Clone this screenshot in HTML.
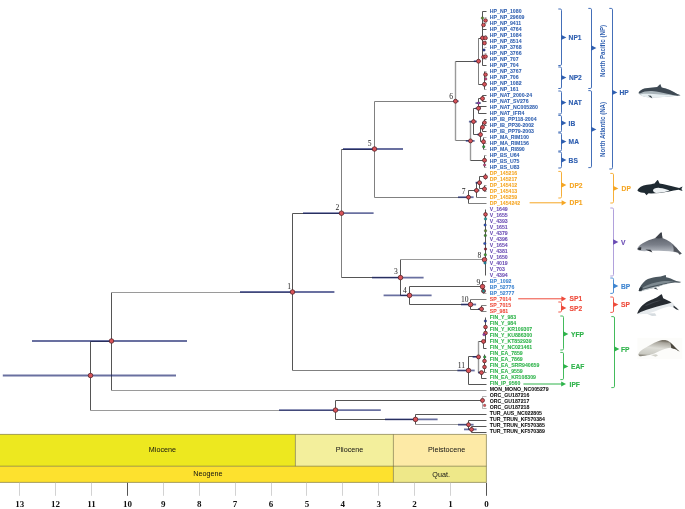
<!DOCTYPE html>
<html><head><meta charset="utf-8"><style>
html,body{margin:0;padding:0;background:#fff;}
svg{display:block;will-change:transform;}
text{font-family:"Liberation Sans",sans-serif;}
.lf{font-size:5.2px;font-weight:bold;stroke:currentColor;stroke-width:0.06px;}
.nl{font-family:"Liberation Serif",serif;font-size:7.6px;fill:#222;}
.ax{font-family:"Liberation Serif",serif;font-size:9px;font-weight:bold;fill:#111;}
.ep{font-size:7.2px;fill:#111;}
.bl{font-size:7.4px;font-weight:bold;stroke-width:0.15px;}
.rl{font-size:7.2px;font-weight:bold;}
</style></head><body>
<svg width="685" height="509" viewBox="0 0 685 509">
<rect width="685" height="509" fill="#fff"/>
<rect x="-5" y="434.4" width="300.4" height="31.8" fill="#ede81f"/>
<rect x="295.4" y="434.4" width="98" height="31.8" fill="#f3ef9c"/>
<rect x="393.4" y="434.4" width="93" height="31.8" fill="#fdeaa6"/>
<rect x="-5" y="466.2" width="398.4" height="16.2" fill="#fde12e"/>
<rect x="393.4" y="466.2" width="93" height="16.2" fill="#eee889"/>
<path d="M-5 434.4 H486.4 V482.4 H-5 M-5 466.2 H486.4 M295.4 434.4 V466.2 M393.4 434.4 V482.4" fill="none" stroke="#6a6530" stroke-width="0.6"/>
<line x1="486.50" y1="482.8" x2="486.50" y2="495.8" stroke="#555" stroke-width="1"/>
<text x="486.40" y="507.0" class="ax" text-anchor="middle">0</text>
<line x1="450.50" y1="482.8" x2="450.50" y2="495.8" stroke="#d2d2d2" stroke-width="1"/>
<text x="450.50" y="507.0" class="ax" text-anchor="middle">1</text>
<line x1="414.50" y1="482.8" x2="414.50" y2="495.8" stroke="#d2d2d2" stroke-width="1"/>
<text x="414.60" y="507.0" class="ax" text-anchor="middle">2</text>
<line x1="378.50" y1="482.8" x2="378.50" y2="495.8" stroke="#d2d2d2" stroke-width="1"/>
<text x="378.70" y="507.0" class="ax" text-anchor="middle">3</text>
<line x1="342.50" y1="482.8" x2="342.50" y2="495.8" stroke="#d2d2d2" stroke-width="1"/>
<text x="342.80" y="507.0" class="ax" text-anchor="middle">4</text>
<line x1="306.50" y1="482.8" x2="306.50" y2="495.8" stroke="#d2d2d2" stroke-width="1"/>
<text x="306.90" y="507.0" class="ax" text-anchor="middle">5</text>
<line x1="271.50" y1="482.8" x2="271.50" y2="495.8" stroke="#d2d2d2" stroke-width="1"/>
<text x="271.00" y="507.0" class="ax" text-anchor="middle">6</text>
<line x1="235.50" y1="482.8" x2="235.50" y2="495.8" stroke="#d2d2d2" stroke-width="1"/>
<text x="235.10" y="507.0" class="ax" text-anchor="middle">7</text>
<line x1="199.50" y1="482.8" x2="199.50" y2="495.8" stroke="#d2d2d2" stroke-width="1"/>
<text x="199.20" y="507.0" class="ax" text-anchor="middle">8</text>
<line x1="163.50" y1="482.8" x2="163.50" y2="495.8" stroke="#d2d2d2" stroke-width="1"/>
<text x="163.30" y="507.0" class="ax" text-anchor="middle">9</text>
<line x1="127.50" y1="482.8" x2="127.50" y2="495.8" stroke="#555" stroke-width="1"/>
<text x="127.40" y="507.0" class="ax" text-anchor="middle">10</text>
<line x1="91.50" y1="482.8" x2="91.50" y2="495.8" stroke="#d2d2d2" stroke-width="1"/>
<text x="91.50" y="507.0" class="ax" text-anchor="middle">11</text>
<line x1="55.50" y1="482.8" x2="55.50" y2="495.8" stroke="#d2d2d2" stroke-width="1"/>
<text x="55.60" y="507.0" class="ax" text-anchor="middle">12</text>
<line x1="19.50" y1="482.8" x2="19.50" y2="495.8" stroke="#d2d2d2" stroke-width="1"/>
<text x="19.70" y="507.0" class="ax" text-anchor="middle">13</text>
<text x="162.4" y="451.6" class="ep" text-anchor="middle">Miocene</text>
<text x="349.5" y="451.6" class="ep" text-anchor="middle">Pliocene</text>
<text x="446.6" y="451.6" class="ep" text-anchor="middle">Pleistocene</text>
<text x="207.9" y="476.3" class="ep" text-anchor="middle">Neogene</text>
<text x="441.1" y="476.9" class="ep" text-anchor="middle">Quat.</text>
<line x1="90.50" y1="341.50" x2="90.50" y2="410.50" stroke="#555555" stroke-width="1.0"/>
<line x1="90.50" y1="341.50" x2="111.50" y2="341.50" stroke="#555555" stroke-width="1.0"/>
<line x1="90.50" y1="410.50" x2="335.50" y2="410.50" stroke="#9a9a9a" stroke-width="1.0"/>
<line x1="111.50" y1="292.50" x2="111.50" y2="390.50" stroke="#555555" stroke-width="1.0"/>
<line x1="111.50" y1="292.50" x2="292.50" y2="292.50" stroke="#9a9a9a" stroke-width="1.0"/>
<line x1="111.50" y1="390.50" x2="486.50" y2="390.50" stroke="#9a9a9a" stroke-width="1.0"/>
<line x1="292.50" y1="213.50" x2="292.50" y2="370.50" stroke="#555555" stroke-width="1.0"/>
<line x1="292.50" y1="213.50" x2="341.50" y2="213.50" stroke="#555555" stroke-width="1.0"/>
<line x1="292.50" y1="370.50" x2="468.50" y2="370.50" stroke="#808080" stroke-width="1.0"/>
<line x1="341.50" y1="149.50" x2="341.50" y2="277.50" stroke="#808080" stroke-width="1.0"/>
<line x1="341.50" y1="149.50" x2="374.50" y2="149.50" stroke="#555555" stroke-width="1.0"/>
<line x1="341.50" y1="277.50" x2="400.50" y2="277.50" stroke="#555555" stroke-width="1.0"/>
<line x1="374.50" y1="101.50" x2="374.50" y2="197.50" stroke="#808080" stroke-width="1.0"/>
<line x1="374.50" y1="101.50" x2="455.50" y2="101.50" stroke="#808080" stroke-width="1.0"/>
<line x1="374.50" y1="197.50" x2="468.50" y2="197.50" stroke="#808080" stroke-width="1.0"/>
<line x1="455.50" y1="61.50" x2="455.50" y2="140.50" stroke="#9a9a9a" stroke-width="1.4"/>
<line x1="455.50" y1="61.50" x2="478.50" y2="61.50" stroke="#555555" stroke-width="1.0"/>
<line x1="455.50" y1="140.50" x2="470.50" y2="140.50" stroke="#808080" stroke-width="1.0"/>
<line x1="478.50" y1="38.50" x2="478.50" y2="84.50" stroke="#808080" stroke-width="1.0"/>
<line x1="478.50" y1="38.50" x2="482.50" y2="38.50" stroke="#555555" stroke-width="1.0"/>
<line x1="478.50" y1="84.50" x2="484.50" y2="84.50" stroke="#555555" stroke-width="1.0"/>
<line x1="482.50" y1="11.50" x2="482.50" y2="65.50" stroke="#555555" stroke-width="1.0"/>
<line x1="482.50" y1="11.50" x2="486.50" y2="11.50" stroke="#555555" stroke-width="1.0"/>
<line x1="482.50" y1="29.50" x2="486.50" y2="29.50" stroke="#555555" stroke-width="1.0"/>
<line x1="482.50" y1="65.50" x2="486.50" y2="65.50" stroke="#555555" stroke-width="1.0"/>
<line x1="484.50" y1="17.50" x2="486.50" y2="17.50" stroke="#808080" stroke-width="0.6"/>
<line x1="484.50" y1="23.50" x2="486.50" y2="23.50" stroke="#808080" stroke-width="0.6"/>
<line x1="484.50" y1="35.50" x2="486.50" y2="35.50" stroke="#808080" stroke-width="0.6"/>
<line x1="484.50" y1="41.50" x2="486.50" y2="41.50" stroke="#808080" stroke-width="0.6"/>
<line x1="484.50" y1="47.50" x2="486.50" y2="47.50" stroke="#808080" stroke-width="0.6"/>
<line x1="484.50" y1="53.50" x2="486.50" y2="53.50" stroke="#808080" stroke-width="0.6"/>
<line x1="484.50" y1="59.50" x2="486.50" y2="59.50" stroke="#808080" stroke-width="0.6"/>
<line x1="484.50" y1="71.50" x2="484.50" y2="89.50" stroke="#555555" stroke-width="1.0"/>
<line x1="484.50" y1="89.50" x2="486.50" y2="89.50" stroke="#808080" stroke-width="0.6"/>
<line x1="484.50" y1="71.50" x2="486.50" y2="71.50" stroke="#808080" stroke-width="0.6"/>
<line x1="484.50" y1="77.50" x2="486.50" y2="77.50" stroke="#808080" stroke-width="0.6"/>
<line x1="484.50" y1="83.50" x2="486.50" y2="83.50" stroke="#808080" stroke-width="0.6"/>
<line x1="470.50" y1="121.50" x2="470.50" y2="160.50" stroke="#9a9a9a" stroke-width="1.4"/>
<line x1="470.50" y1="121.50" x2="473.50" y2="121.50" stroke="#555555" stroke-width="1.0"/>
<line x1="470.50" y1="160.50" x2="484.50" y2="160.50" stroke="#555555" stroke-width="1.0"/>
<line x1="473.50" y1="108.50" x2="473.50" y2="134.50" stroke="#555555" stroke-width="1.0"/>
<line x1="473.50" y1="108.50" x2="478.50" y2="108.50" stroke="#555555" stroke-width="1.0"/>
<line x1="473.50" y1="134.50" x2="480.50" y2="134.50" stroke="#555555" stroke-width="1.0"/>
<line x1="478.50" y1="98.50" x2="478.50" y2="113.50" stroke="#555555" stroke-width="1.0"/>
<line x1="478.50" y1="106.50" x2="486.50" y2="106.50" stroke="#555555" stroke-width="1.0"/>
<line x1="478.50" y1="113.50" x2="486.50" y2="113.50" stroke="#555555" stroke-width="1.0"/>
<line x1="482.50" y1="95.50" x2="482.50" y2="101.50" stroke="#555555" stroke-width="1.0"/>
<line x1="482.50" y1="95.50" x2="486.50" y2="95.50" stroke="#555555" stroke-width="1.0"/>
<line x1="482.50" y1="101.50" x2="486.50" y2="101.50" stroke="#555555" stroke-width="1.0"/>
<line x1="478.50" y1="98.50" x2="482.50" y2="98.50" stroke="#555555" stroke-width="1.0"/>
<line x1="480.50" y1="127.50" x2="480.50" y2="141.50" stroke="#555555" stroke-width="1.0"/>
<line x1="480.50" y1="127.50" x2="482.50" y2="127.50" stroke="#555555" stroke-width="1.0"/>
<line x1="480.50" y1="141.50" x2="483.50" y2="141.50" stroke="#555555" stroke-width="1.0"/>
<line x1="482.50" y1="122.50" x2="482.50" y2="131.50" stroke="#555555" stroke-width="1.0"/>
<line x1="482.50" y1="131.50" x2="486.50" y2="131.50" stroke="#555555" stroke-width="1.0"/>
<line x1="484.50" y1="119.50" x2="484.50" y2="125.50" stroke="#555555" stroke-width="1.0"/>
<line x1="484.50" y1="119.50" x2="486.50" y2="119.50" stroke="#555555" stroke-width="1.0"/>
<line x1="484.50" y1="125.50" x2="486.50" y2="125.50" stroke="#555555" stroke-width="1.0"/>
<line x1="482.50" y1="122.50" x2="484.50" y2="122.50" stroke="#555555" stroke-width="1.0"/>
<line x1="483.50" y1="137.50" x2="483.50" y2="149.50" stroke="#555555" stroke-width="1.0"/>
<line x1="483.50" y1="137.50" x2="486.50" y2="137.50" stroke="#808080" stroke-width="0.6"/>
<line x1="483.50" y1="143.50" x2="486.50" y2="143.50" stroke="#808080" stroke-width="0.6"/>
<line x1="483.50" y1="149.50" x2="486.50" y2="149.50" stroke="#808080" stroke-width="0.6"/>
<line x1="484.50" y1="155.50" x2="484.50" y2="167.50" stroke="#555555" stroke-width="1.0"/>
<line x1="484.50" y1="155.50" x2="486.50" y2="155.50" stroke="#808080" stroke-width="0.6"/>
<line x1="484.50" y1="161.50" x2="486.50" y2="161.50" stroke="#808080" stroke-width="0.6"/>
<line x1="484.50" y1="167.50" x2="486.50" y2="167.50" stroke="#808080" stroke-width="0.6"/>
<line x1="468.50" y1="190.50" x2="468.50" y2="203.50" stroke="#555555" stroke-width="1.0"/>
<line x1="468.50" y1="190.50" x2="476.50" y2="190.50" stroke="#555555" stroke-width="1.0"/>
<line x1="468.50" y1="203.50" x2="486.50" y2="203.50" stroke="#808080" stroke-width="1.0"/>
<line x1="476.50" y1="182.50" x2="476.50" y2="197.50" stroke="#555555" stroke-width="1.0"/>
<line x1="476.50" y1="182.50" x2="479.50" y2="182.50" stroke="#555555" stroke-width="1.0"/>
<line x1="476.50" y1="197.50" x2="486.50" y2="197.50" stroke="#808080" stroke-width="1.0"/>
<line x1="479.50" y1="176.50" x2="479.50" y2="188.50" stroke="#555555" stroke-width="1.0"/>
<line x1="479.50" y1="176.50" x2="485.50" y2="176.50" stroke="#555555" stroke-width="1.0"/>
<line x1="479.50" y1="188.50" x2="484.50" y2="188.50" stroke="#555555" stroke-width="1.0"/>
<line x1="485.50" y1="173.50" x2="485.50" y2="179.50" stroke="#555555" stroke-width="1.0"/>
<line x1="484.50" y1="185.50" x2="484.50" y2="191.50" stroke="#555555" stroke-width="1.0"/>
<line x1="484.50" y1="185.50" x2="486.50" y2="185.50" stroke="#555555" stroke-width="0.6"/>
<line x1="484.50" y1="191.50" x2="486.50" y2="191.50" stroke="#555555" stroke-width="0.6"/>
<line x1="400.50" y1="259.50" x2="400.50" y2="295.50" stroke="#555555" stroke-width="1.0"/>
<line x1="400.50" y1="259.50" x2="484.50" y2="259.50" stroke="#9a9a9a" stroke-width="1.0"/>
<line x1="400.50" y1="295.50" x2="409.50" y2="295.50" stroke="#555555" stroke-width="1.0"/>
<line x1="485.50" y1="209.50" x2="485.50" y2="275.50" stroke="#555555" stroke-width="1.0"/>
<line x1="409.50" y1="286.50" x2="409.50" y2="304.50" stroke="#555555" stroke-width="1.0"/>
<line x1="409.50" y1="286.50" x2="482.50" y2="286.50" stroke="#555555" stroke-width="1.0"/>
<line x1="409.50" y1="304.50" x2="470.50" y2="304.50" stroke="#555555" stroke-width="1.0"/>
<line x1="482.50" y1="281.50" x2="482.50" y2="291.50" stroke="#555555" stroke-width="1.0"/>
<line x1="482.50" y1="281.50" x2="486.50" y2="281.50" stroke="#808080" stroke-width="1.0"/>
<line x1="482.50" y1="291.50" x2="483.50" y2="291.50" stroke="#555555" stroke-width="1.0"/>
<line x1="483.50" y1="287.50" x2="483.50" y2="293.50" stroke="#555555" stroke-width="1.0"/>
<line x1="483.50" y1="293.50" x2="486.50" y2="293.50" stroke="#808080" stroke-width="0.6"/>
<line x1="470.50" y1="299.50" x2="470.50" y2="309.50" stroke="#555555" stroke-width="1.0"/>
<line x1="470.50" y1="299.50" x2="486.50" y2="299.50" stroke="#808080" stroke-width="1.0"/>
<line x1="470.50" y1="309.50" x2="481.50" y2="309.50" stroke="#555555" stroke-width="1.0"/>
<line x1="481.50" y1="305.50" x2="481.50" y2="311.50" stroke="#555555" stroke-width="1.0"/>
<line x1="481.50" y1="305.50" x2="486.50" y2="305.50" stroke="#808080" stroke-width="1.0"/>
<line x1="481.50" y1="311.50" x2="486.50" y2="311.50" stroke="#808080" stroke-width="1.0"/>
<line x1="468.50" y1="356.50" x2="468.50" y2="384.50" stroke="#555555" stroke-width="1.0"/>
<line x1="468.50" y1="356.50" x2="478.50" y2="356.50" stroke="#555555" stroke-width="1.0"/>
<line x1="468.50" y1="384.50" x2="486.50" y2="384.50" stroke="#555555" stroke-width="1.0"/>
<line x1="478.50" y1="341.50" x2="478.50" y2="372.50" stroke="#9a9a9a" stroke-width="1.4"/>
<line x1="478.50" y1="341.50" x2="483.50" y2="341.50" stroke="#555555" stroke-width="1.0"/>
<line x1="478.50" y1="372.50" x2="481.50" y2="372.50" stroke="#555555" stroke-width="1.0"/>
<line x1="483.50" y1="342.50" x2="483.50" y2="348.50" stroke="#555555" stroke-width="1.0"/>
<line x1="483.50" y1="348.50" x2="486.50" y2="348.50" stroke="#555555" stroke-width="1.0"/>
<line x1="485.50" y1="317.50" x2="485.50" y2="342.50" stroke="#555555" stroke-width="1.0"/>
<line x1="481.50" y1="372.50" x2="481.50" y2="378.50" stroke="#555555" stroke-width="1.0"/>
<line x1="481.50" y1="378.50" x2="486.50" y2="378.50" stroke="#555555" stroke-width="1.0"/>
<line x1="484.50" y1="354.50" x2="484.50" y2="372.50" stroke="#555555" stroke-width="1.0"/>
<line x1="481.50" y1="372.50" x2="486.50" y2="372.50" stroke="#808080" stroke-width="1.0"/>
<line x1="335.50" y1="400.50" x2="335.50" y2="419.50" stroke="#555555" stroke-width="1.0"/>
<line x1="335.50" y1="400.50" x2="482.50" y2="400.50" stroke="#555555" stroke-width="1.0"/>
<line x1="335.50" y1="419.50" x2="415.50" y2="419.50" stroke="#555555" stroke-width="1.0"/>
<line x1="482.50" y1="396.50" x2="482.50" y2="408.50" stroke="#808080" stroke-width="0.6"/>
<line x1="482.50" y1="396.50" x2="486.50" y2="396.50" stroke="#808080" stroke-width="0.6"/>
<line x1="482.50" y1="408.50" x2="486.50" y2="408.50" stroke="#808080" stroke-width="0.6"/>
<line x1="415.50" y1="414.50" x2="415.50" y2="424.50" stroke="#555555" stroke-width="1.0"/>
<line x1="415.50" y1="414.50" x2="486.50" y2="414.50" stroke="#555555" stroke-width="1.0"/>
<line x1="415.50" y1="424.50" x2="468.50" y2="424.50" stroke="#9a9a9a" stroke-width="1.0"/>
<line x1="468.50" y1="420.50" x2="468.50" y2="429.50" stroke="#555555" stroke-width="1.0"/>
<line x1="468.50" y1="420.50" x2="486.50" y2="420.50" stroke="#555555" stroke-width="1.0"/>
<line x1="468.50" y1="429.50" x2="471.50" y2="429.50" stroke="#555555" stroke-width="1.0"/>
<line x1="471.50" y1="426.50" x2="471.50" y2="432.50" stroke="#555555" stroke-width="1.0"/>
<line x1="471.50" y1="426.50" x2="486.50" y2="426.50" stroke="#555555" stroke-width="1.0"/>
<line x1="471.50" y1="432.50" x2="486.50" y2="432.50" stroke="#555555" stroke-width="1.0"/>
<line x1="2.80" y1="375.50" x2="176.00" y2="375.50" stroke="#0d1866" stroke-width="1.8" stroke-opacity="0.62"/>
<line x1="32.00" y1="341.00" x2="187.00" y2="341.00" stroke="#0d1866" stroke-width="1.8" stroke-opacity="0.62"/>
<line x1="240.00" y1="292.00" x2="334.40" y2="292.00" stroke="#0d1866" stroke-width="1.8" stroke-opacity="0.62"/>
<line x1="303.00" y1="213.20" x2="373.60" y2="213.20" stroke="#0d1866" stroke-width="1.8" stroke-opacity="0.62"/>
<line x1="343.00" y1="149.00" x2="403.00" y2="149.00" stroke="#0d1866" stroke-width="1.8" stroke-opacity="0.62"/>
<line x1="372.00" y1="277.60" x2="423.60" y2="277.60" stroke="#0d1866" stroke-width="1.8" stroke-opacity="0.62"/>
<line x1="383.60" y1="295.40" x2="431.60" y2="295.40" stroke="#0d1866" stroke-width="1.8" stroke-opacity="0.62"/>
<line x1="279.00" y1="410.10" x2="380.80" y2="410.10" stroke="#0d1866" stroke-width="1.8" stroke-opacity="0.62"/>
<line x1="385.00" y1="419.40" x2="437.60" y2="419.40" stroke="#0d1866" stroke-width="1.8" stroke-opacity="0.62"/>
<line x1="458.00" y1="424.70" x2="473.60" y2="424.70" stroke="#0d1866" stroke-width="1.8" stroke-opacity="0.62"/>
<line x1="464.00" y1="429.40" x2="476.60" y2="429.40" stroke="#0d1866" stroke-width="1.8" stroke-opacity="0.62"/>
<line x1="458.00" y1="197.20" x2="473.60" y2="197.20" stroke="#0d1866" stroke-width="1.8" stroke-opacity="0.62"/>
<line x1="461.00" y1="304.50" x2="476.10" y2="304.50" stroke="#0d1866" stroke-width="1.8" stroke-opacity="0.62"/>
<line x1="457.40" y1="370.50" x2="474.70" y2="370.50" stroke="#0d1866" stroke-width="1.8" stroke-opacity="0.62"/>
<line x1="472.60" y1="356.90" x2="480.20" y2="356.90" stroke="#0d1866" stroke-width="1.8" stroke-opacity="0.62"/>
<line x1="477.90" y1="309.00" x2="483.40" y2="309.00" stroke="#0d1866" stroke-width="1.8" stroke-opacity="0.62"/>
<line x1="468.90" y1="121.60" x2="476.90" y2="121.60" stroke="#0d1866" stroke-width="1.8" stroke-opacity="0.62"/>
<line x1="453.00" y1="101.20" x2="458.70" y2="101.20" stroke="#0d1866" stroke-width="1.8" stroke-opacity="0.62"/>
<line x1="473.80" y1="61.20" x2="480.20" y2="61.20" stroke="#0d1866" stroke-width="1.8" stroke-opacity="0.62"/>
<line x1="465.80" y1="140.90" x2="474.60" y2="140.90" stroke="#0d1866" stroke-width="1.8" stroke-opacity="0.62"/>
<line x1="475.50" y1="182.70" x2="482.00" y2="182.70" stroke="#0d1866" stroke-width="1.8" stroke-opacity="0.62"/>
<line x1="474.00" y1="190.40" x2="479.50" y2="190.40" stroke="#0d1866" stroke-width="1.8" stroke-opacity="0.62"/>
<line x1="475.50" y1="108.30" x2="480.80" y2="108.30" stroke="#0d1866" stroke-width="1.8" stroke-opacity="0.62"/>
<line x1="475.50" y1="103.10" x2="480.80" y2="103.10" stroke="#0d1866" stroke-width="1.8" stroke-opacity="0.62"/>
<line x1="477.30" y1="134.60" x2="482.00" y2="134.60" stroke="#0d1866" stroke-width="1.8" stroke-opacity="0.62"/>
<line x1="478.00" y1="372.60" x2="481.50" y2="372.60" stroke="#0d1866" stroke-width="1.8" stroke-opacity="0.62"/>
<line x1="480.50" y1="38.00" x2="486.00" y2="38.00" stroke="#0d1866" stroke-width="1.8" stroke-opacity="0.62"/>
<circle cx="90.50" cy="375.50" r="2.3" fill="#d9545a" stroke="#4a1a1e" stroke-width="0.7"/>
<circle cx="111.50" cy="341.00" r="2.3" fill="#d9545a" stroke="#4a1a1e" stroke-width="0.7"/>
<circle cx="292.50" cy="292.00" r="2.3" fill="#d9545a" stroke="#4a1a1e" stroke-width="0.7"/>
<circle cx="341.50" cy="213.20" r="2.3" fill="#d9545a" stroke="#4a1a1e" stroke-width="0.7"/>
<circle cx="374.50" cy="149.00" r="2.3" fill="#d9545a" stroke="#4a1a1e" stroke-width="0.7"/>
<circle cx="400.50" cy="277.60" r="2.3" fill="#d9545a" stroke="#4a1a1e" stroke-width="0.7"/>
<circle cx="409.50" cy="295.40" r="2.3" fill="#d9545a" stroke="#4a1a1e" stroke-width="0.7"/>
<circle cx="484.50" cy="259.70" r="2.3" fill="#d9545a" stroke="#4a1a1e" stroke-width="0.7"/>
<circle cx="482.50" cy="286.60" r="2.3" fill="#d9545a" stroke="#4a1a1e" stroke-width="0.7"/>
<circle cx="470.50" cy="304.50" r="2.3" fill="#d9545a" stroke="#4a1a1e" stroke-width="0.7"/>
<circle cx="468.50" cy="370.50" r="2.3" fill="#d9545a" stroke="#4a1a1e" stroke-width="0.7"/>
<circle cx="335.50" cy="410.10" r="2.3" fill="#d9545a" stroke="#4a1a1e" stroke-width="0.7"/>
<circle cx="415.50" cy="419.40" r="2.3" fill="#d9545a" stroke="#4a1a1e" stroke-width="0.7"/>
<circle cx="455.50" cy="101.20" r="2.0" fill="#d9545a" stroke="#4a1a1e" stroke-width="0.7"/>
<circle cx="468.50" cy="197.20" r="2.0" fill="#d9545a" stroke="#4a1a1e" stroke-width="0.7"/>
<circle cx="478.50" cy="61.20" r="2.0" fill="#d9545a" stroke="#4a1a1e" stroke-width="0.7"/>
<circle cx="470.50" cy="140.90" r="2.0" fill="#d9545a" stroke="#4a1a1e" stroke-width="0.7"/>
<circle cx="473.50" cy="121.60" r="2.0" fill="#d9545a" stroke="#4a1a1e" stroke-width="0.7"/>
<circle cx="478.50" cy="108.30" r="2.0" fill="#d9545a" stroke="#4a1a1e" stroke-width="0.7"/>
<circle cx="480.50" cy="134.60" r="2.0" fill="#d9545a" stroke="#4a1a1e" stroke-width="0.7"/>
<circle cx="482.50" cy="127.30" r="2.0" fill="#d9545a" stroke="#4a1a1e" stroke-width="0.7"/>
<circle cx="483.50" cy="141.70" r="2.0" fill="#d9545a" stroke="#4a1a1e" stroke-width="0.7"/>
<circle cx="484.50" cy="160.30" r="2.0" fill="#d9545a" stroke="#4a1a1e" stroke-width="0.7"/>
<circle cx="482.50" cy="38.00" r="2.0" fill="#d9545a" stroke="#4a1a1e" stroke-width="0.7"/>
<circle cx="484.50" cy="84.30" r="2.0" fill="#d9545a" stroke="#4a1a1e" stroke-width="0.7"/>
<circle cx="476.50" cy="190.40" r="2.0" fill="#d9545a" stroke="#4a1a1e" stroke-width="0.7"/>
<circle cx="479.50" cy="182.70" r="2.0" fill="#d9545a" stroke="#4a1a1e" stroke-width="0.7"/>
<circle cx="485.50" cy="176.90" r="2.0" fill="#d9545a" stroke="#4a1a1e" stroke-width="0.7"/>
<circle cx="484.50" cy="188.90" r="2.0" fill="#d9545a" stroke="#4a1a1e" stroke-width="0.7"/>
<circle cx="478.50" cy="356.90" r="2.0" fill="#d9545a" stroke="#4a1a1e" stroke-width="0.7"/>
<circle cx="483.50" cy="341.40" r="2.0" fill="#d9545a" stroke="#4a1a1e" stroke-width="0.7"/>
<circle cx="481.50" cy="372.60" r="2.0" fill="#d9545a" stroke="#4a1a1e" stroke-width="0.7"/>
<circle cx="482.50" cy="400.40" r="2.0" fill="#d9545a" stroke="#4a1a1e" stroke-width="0.7"/>
<circle cx="468.50" cy="424.70" r="2.0" fill="#d9545a" stroke="#4a1a1e" stroke-width="0.7"/>
<circle cx="471.50" cy="429.40" r="2.0" fill="#d9545a" stroke="#4a1a1e" stroke-width="0.7"/>
<circle cx="483.50" cy="291.00" r="2.0" fill="#d9545a" stroke="#4a1a1e" stroke-width="0.7"/>
<circle cx="481.50" cy="309.00" r="2.0" fill="#d9545a" stroke="#4a1a1e" stroke-width="0.7"/>
<circle cx="482.50" cy="98.50" r="2.0" fill="#d9545a" stroke="#4a1a1e" stroke-width="0.7"/>
<circle cx="485.50" cy="20.50" r="1.85" fill="#d9545a" stroke="#4a1a1e" stroke-width="0.7"/>
<circle cx="483.50" cy="25.00" r="1.85" fill="#d9545a" stroke="#4a1a1e" stroke-width="0.7"/>
<circle cx="485.50" cy="38.00" r="1.85" fill="#d9545a" stroke="#4a1a1e" stroke-width="0.7"/>
<circle cx="484.50" cy="43.10" r="1.85" fill="#d9545a" stroke="#4a1a1e" stroke-width="0.7"/>
<circle cx="483.50" cy="57.00" r="1.85" fill="#d9545a" stroke="#4a1a1e" stroke-width="0.7"/>
<circle cx="485.50" cy="56.50" r="1.85" fill="#d9545a" stroke="#4a1a1e" stroke-width="0.7"/>
<circle cx="485.50" cy="74.60" r="1.85" fill="#d9545a" stroke="#4a1a1e" stroke-width="0.7"/>
<circle cx="484.50" cy="122.60" r="1.85" fill="#d9545a" stroke="#4a1a1e" stroke-width="0.7"/>
<circle cx="485.50" cy="214.40" r="1.85" fill="#d9545a" stroke="#4a1a1e" stroke-width="0.7"/>
<circle cx="485.50" cy="327.00" r="1.85" fill="#d9545a" stroke="#4a1a1e" stroke-width="0.7"/>
<circle cx="485.50" cy="333.00" r="1.85" fill="#d9545a" stroke="#4a1a1e" stroke-width="0.7"/>
<circle cx="484.50" cy="361.00" r="1.85" fill="#d9545a" stroke="#4a1a1e" stroke-width="0.7"/>
<circle cx="484.50" cy="367.00" r="1.85" fill="#d9545a" stroke="#4a1a1e" stroke-width="0.7"/>
<circle cx="482.40" cy="18.10" r="1.3" fill="#5a8a2a" stroke="#333" stroke-width="0.3"/>
<circle cx="484.00" cy="50.00" r="1.3" fill="#2a3a9a" stroke="#333" stroke-width="0.3"/>
<circle cx="485.70" cy="79.00" r="1.3" fill="#c0407a" stroke="#333" stroke-width="0.3"/>
<circle cx="478.60" cy="103.00" r="1.3" fill="#9a3ab0" stroke="#333" stroke-width="0.3"/>
<circle cx="483.70" cy="146.80" r="1.3" fill="#2a9a3a" stroke="#333" stroke-width="0.3"/>
<circle cx="484.60" cy="165.00" r="1.3" fill="#c0407a" stroke="#333" stroke-width="0.3"/>
<circle cx="485.50" cy="218.90" r="1.3" fill="#1a9a9a" stroke="#333" stroke-width="0.3"/>
<circle cx="485.10" cy="225.00" r="1.3" fill="#2a50c0" stroke="#333" stroke-width="0.3"/>
<circle cx="485.50" cy="230.80" r="1.3" fill="#5a8a2a" stroke="#333" stroke-width="0.3"/>
<circle cx="485.30" cy="235.50" r="1.3" fill="#3a8a2a" stroke="#333" stroke-width="0.3"/>
<circle cx="484.80" cy="243.50" r="1.3" fill="#2a50c0" stroke="#333" stroke-width="0.3"/>
<circle cx="485.50" cy="249.00" r="1.3" fill="#8a1a2a" stroke="#333" stroke-width="0.3"/>
<circle cx="485.30" cy="254.80" r="1.3" fill="#3a9a2a" stroke="#333" stroke-width="0.3"/>
<circle cx="485.00" cy="262.90" r="1.3" fill="#1a8aaa" stroke="#333" stroke-width="0.3"/>
<circle cx="483.50" cy="291.10" r="1.3" fill="#1a9a9a" stroke="#333" stroke-width="0.3"/>
<circle cx="485.40" cy="321.00" r="1.3" fill="#2a3a9a" stroke="#333" stroke-width="0.3"/>
<circle cx="484.00" cy="334.60" r="1.3" fill="#9a3ab0" stroke="#333" stroke-width="0.3"/>
<circle cx="484.70" cy="357.00" r="1.3" fill="#2a9a3a" stroke="#333" stroke-width="0.3"/>
<circle cx="484.60" cy="405.40" r="1.3" fill="#d9545a" stroke="#333" stroke-width="0.3"/>
<text x="289.2" y="288.55" class="nl" text-anchor="middle">1</text>
<text x="337.3" y="209.95" class="nl" text-anchor="middle">2</text>
<text x="396.0" y="273.65" class="nl" text-anchor="middle">3</text>
<text x="405.0" y="292.65" class="nl" text-anchor="middle">4</text>
<text x="369.6" y="145.65" class="nl" text-anchor="middle">5</text>
<text x="451.2" y="98.55" class="nl" text-anchor="middle">6</text>
<text x="463.6" y="193.95" class="nl" text-anchor="middle">7</text>
<text x="479.3" y="258.05" class="nl" text-anchor="middle">8</text>
<text x="478.5" y="284.65" class="nl" text-anchor="middle">9</text>
<text x="464.7" y="302.45" class="nl" text-anchor="middle">10</text>
<text x="461.3" y="367.95" class="nl" text-anchor="middle">11</text>
<text x="489.8" y="12.75" class="lf" fill="#2f5fb0" style="color:#2f5fb0">HP_NP_1080</text>
<text x="489.8" y="18.76" class="lf" fill="#2f5fb0" style="color:#2f5fb0">HP_NP_29609</text>
<text x="489.8" y="24.76" class="lf" fill="#2f5fb0" style="color:#2f5fb0">HP_NP_9411</text>
<text x="489.8" y="30.77" class="lf" fill="#2f5fb0" style="color:#2f5fb0">HP_NP_4764</text>
<text x="489.8" y="36.77" class="lf" fill="#2f5fb0" style="color:#2f5fb0">HP_NP_1084</text>
<text x="489.8" y="42.78" class="lf" fill="#2f5fb0" style="color:#2f5fb0">HP_NP_8514</text>
<text x="489.8" y="48.79" class="lf" fill="#2f5fb0" style="color:#2f5fb0">HP_NP_3768</text>
<text x="489.8" y="54.79" class="lf" fill="#2f5fb0" style="color:#2f5fb0">HP_NP_3766</text>
<text x="489.8" y="60.80" class="lf" fill="#2f5fb0" style="color:#2f5fb0">HP_NP_707</text>
<text x="489.8" y="66.80" class="lf" fill="#2f5fb0" style="color:#2f5fb0">HP_NP_704</text>
<text x="489.8" y="72.81" class="lf" fill="#2f5fb0" style="color:#2f5fb0">HP_NP_3767</text>
<text x="489.8" y="78.81" class="lf" fill="#2f5fb0" style="color:#2f5fb0">HP_NP_706</text>
<text x="489.8" y="84.82" class="lf" fill="#2f5fb0" style="color:#2f5fb0">HP_NP_1082</text>
<text x="489.8" y="90.83" class="lf" fill="#2f5fb0" style="color:#2f5fb0">HP_NP_161</text>
<text x="489.8" y="96.83" class="lf" fill="#2f5fb0" style="color:#2f5fb0">HP_NAT_2000-24</text>
<text x="489.8" y="102.84" class="lf" fill="#2f5fb0" style="color:#2f5fb0">HP_NAT_SV276</text>
<text x="489.8" y="108.84" class="lf" fill="#2f5fb0" style="color:#2f5fb0">HP_NAT_NC005280</text>
<text x="489.8" y="114.85" class="lf" fill="#2f5fb0" style="color:#2f5fb0">HP_NAT_IFR4</text>
<text x="489.8" y="120.86" class="lf" fill="#2f5fb0" style="color:#2f5fb0">HP_IB_PP118-2004</text>
<text x="489.8" y="126.86" class="lf" fill="#2f5fb0" style="color:#2f5fb0">HP_IB_PP30-2002</text>
<text x="489.8" y="132.87" class="lf" fill="#2f5fb0" style="color:#2f5fb0">HP_IB_PP79-2003</text>
<text x="489.8" y="138.87" class="lf" fill="#2f5fb0" style="color:#2f5fb0">HP_MA_RIM100</text>
<text x="489.8" y="144.88" class="lf" fill="#2f5fb0" style="color:#2f5fb0">HP_MA_RIM156</text>
<text x="489.8" y="150.88" class="lf" fill="#2f5fb0" style="color:#2f5fb0">HP_MA_RI890</text>
<text x="489.8" y="156.89" class="lf" fill="#2f5fb0" style="color:#2f5fb0">HP_BS_U64</text>
<text x="489.8" y="162.90" class="lf" fill="#2f5fb0" style="color:#2f5fb0">HP_BS_U75</text>
<text x="489.8" y="168.90" class="lf" fill="#2f5fb0" style="color:#2f5fb0">HP_BS_U83</text>
<text x="489.8" y="174.91" class="lf" fill="#f5a623" style="color:#f5a623">DP_145216</text>
<text x="489.8" y="180.91" class="lf" fill="#f5a623" style="color:#f5a623">DP_145217</text>
<text x="489.8" y="186.92" class="lf" fill="#f5a623" style="color:#f5a623">DP_145412</text>
<text x="489.8" y="192.93" class="lf" fill="#f5a623" style="color:#f5a623">DP_145413</text>
<text x="489.8" y="198.93" class="lf" fill="#f5a623" style="color:#f5a623">DP_145259</text>
<text x="489.8" y="204.94" class="lf" fill="#f5a623" style="color:#f5a623">DP_1454242</text>
<text x="489.8" y="210.94" class="lf" fill="#6a4cb4" style="color:#6a4cb4">V_1649</text>
<text x="489.8" y="216.95" class="lf" fill="#6a4cb4" style="color:#6a4cb4">V_1655</text>
<text x="489.8" y="222.95" class="lf" fill="#6a4cb4" style="color:#6a4cb4">V_4393</text>
<text x="489.8" y="228.96" class="lf" fill="#6a4cb4" style="color:#6a4cb4">V_1651</text>
<text x="489.8" y="234.97" class="lf" fill="#6a4cb4" style="color:#6a4cb4">V_4379</text>
<text x="489.8" y="240.97" class="lf" fill="#6a4cb4" style="color:#6a4cb4">V_4396</text>
<text x="489.8" y="246.98" class="lf" fill="#6a4cb4" style="color:#6a4cb4">V_1654</text>
<text x="489.8" y="252.98" class="lf" fill="#6a4cb4" style="color:#6a4cb4">V_4381</text>
<text x="489.8" y="258.99" class="lf" fill="#6a4cb4" style="color:#6a4cb4">V_1650</text>
<text x="489.8" y="265.00" class="lf" fill="#6a4cb4" style="color:#6a4cb4">V_4019</text>
<text x="489.8" y="271.00" class="lf" fill="#6a4cb4" style="color:#6a4cb4">V_703</text>
<text x="489.8" y="277.01" class="lf" fill="#6a4cb4" style="color:#6a4cb4">V_4394</text>
<text x="489.8" y="283.01" class="lf" fill="#3d84d0" style="color:#3d84d0">BP_1092</text>
<text x="489.8" y="289.02" class="lf" fill="#3d84d0" style="color:#3d84d0">BP_52776</text>
<text x="489.8" y="295.03" class="lf" fill="#3d84d0" style="color:#3d84d0">BP_52777</text>
<text x="489.8" y="301.03" class="lf" fill="#ee4b3b" style="color:#ee4b3b">SP_7014</text>
<text x="489.8" y="307.04" class="lf" fill="#ee4b3b" style="color:#ee4b3b">SP_7015</text>
<text x="489.8" y="313.04" class="lf" fill="#ee4b3b" style="color:#ee4b3b">SP_981</text>
<text x="489.8" y="319.05" class="lf" fill="#2eb34a" style="color:#2eb34a">FIN_Y_983</text>
<text x="489.8" y="325.05" class="lf" fill="#2eb34a" style="color:#2eb34a">FIN_Y_984</text>
<text x="489.8" y="331.06" class="lf" fill="#2eb34a" style="color:#2eb34a">FIN_Y_KR109307</text>
<text x="489.8" y="337.07" class="lf" fill="#2eb34a" style="color:#2eb34a">FIN_Y_KU886300</text>
<text x="489.8" y="343.07" class="lf" fill="#2eb34a" style="color:#2eb34a">FIN_Y_KT852939</text>
<text x="489.8" y="349.08" class="lf" fill="#2eb34a" style="color:#2eb34a">FIN_Y_NC021461</text>
<text x="489.8" y="355.08" class="lf" fill="#2eb34a" style="color:#2eb34a">FIN_EA_7859</text>
<text x="489.8" y="361.09" class="lf" fill="#2eb34a" style="color:#2eb34a">FIN_EA_7869</text>
<text x="489.8" y="367.10" class="lf" fill="#2eb34a" style="color:#2eb34a">FIN_EA_SRR940659</text>
<text x="489.8" y="373.10" class="lf" fill="#2eb34a" style="color:#2eb34a">FIN_EA_9559</text>
<text x="489.8" y="379.11" class="lf" fill="#2eb34a" style="color:#2eb34a">FIN_EA_KR108309</text>
<text x="489.8" y="385.11" class="lf" fill="#2eb34a" style="color:#2eb34a">FIN_IP_9560</text>
<text x="489.8" y="391.12" class="lf" fill="#111111" style="color:#111111">MON_MONO_NC005279</text>
<text x="489.8" y="397.12" class="lf" fill="#111111" style="color:#111111">ORC_GU187216</text>
<text x="489.8" y="403.13" class="lf" fill="#111111" style="color:#111111">ORC_GU187217</text>
<text x="489.8" y="409.14" class="lf" fill="#111111" style="color:#111111">ORC_GU187218</text>
<text x="489.8" y="415.14" class="lf" fill="#111111" style="color:#111111">TUR_AUS_NC022805</text>
<text x="489.8" y="421.15" class="lf" fill="#111111" style="color:#111111">TUR_TRUN_KF570384</text>
<text x="489.8" y="427.15" class="lf" fill="#111111" style="color:#111111">TUR_TRUN_KF570385</text>
<text x="489.8" y="433.16" class="lf" fill="#111111" style="color:#111111">TUR_TRUN_KF570389</text>
<path d="M558.30 9.00 L560.30 9.00 Q561.50 9.00 561.50 10.40 V64.10 Q561.50 65.50 560.30 65.50 L558.30 65.50" fill="none" stroke="#2f5fb0" stroke-width="0.9"/>
<path d="M561.10 34.70 L566.40 37.40 L561.10 40.10 Z" fill="#2f5fb0"/>
<text transform="translate(568.6 40.00) scale(0.9 1)" class="bl" fill="#2f5fb0" stroke="#2f5fb0">NP1</text>
<path d="M558.30 67.00 L560.30 67.00 Q561.50 67.00 561.50 68.40 V87.10 Q561.50 88.50 560.30 88.50 L558.30 88.50" fill="none" stroke="#2f5fb0" stroke-width="0.9"/>
<path d="M561.10 74.90 L566.40 77.60 L561.10 80.30 Z" fill="#2f5fb0"/>
<text transform="translate(568.9 80.20) scale(0.9 1)" class="bl" fill="#2f5fb0" stroke="#2f5fb0">NP2</text>
<path d="M558.30 91.00 L560.30 91.00 Q561.50 91.00 561.50 92.40 V112.60 Q561.50 114.00 560.30 114.00 L558.30 114.00" fill="none" stroke="#2f5fb0" stroke-width="0.9"/>
<path d="M561.10 99.90 L566.40 102.60 L561.10 105.30 Z" fill="#2f5fb0"/>
<text transform="translate(568.6 105.20) scale(0.9 1)" class="bl" fill="#2f5fb0" stroke="#2f5fb0">NAT</text>
<path d="M558.30 115.40 L560.30 115.40 Q561.50 115.40 561.50 116.80 V130.60 Q561.50 132.00 560.30 132.00 L558.30 132.00" fill="none" stroke="#2f5fb0" stroke-width="0.9"/>
<path d="M561.10 120.30 L566.40 123.00 L561.10 125.70 Z" fill="#2f5fb0"/>
<text transform="translate(568.6 125.60) scale(0.9 1)" class="bl" fill="#2f5fb0" stroke="#2f5fb0">IB</text>
<path d="M558.30 133.00 L560.30 133.00 Q561.50 133.00 561.50 134.40 V149.60 Q561.50 151.00 560.30 151.00 L558.30 151.00" fill="none" stroke="#2f5fb0" stroke-width="0.9"/>
<path d="M561.10 138.90 L566.40 141.60 L561.10 144.30 Z" fill="#2f5fb0"/>
<text transform="translate(568.6 144.20) scale(0.9 1)" class="bl" fill="#2f5fb0" stroke="#2f5fb0">MA</text>
<path d="M558.30 152.00 L560.30 152.00 Q561.50 152.00 561.50 153.40 V166.60 Q561.50 168.00 560.30 168.00 L558.30 168.00" fill="none" stroke="#2f5fb0" stroke-width="0.9"/>
<path d="M561.10 157.30 L566.40 160.00 L561.10 162.70 Z" fill="#2f5fb0"/>
<text transform="translate(568.6 162.60) scale(0.9 1)" class="bl" fill="#2f5fb0" stroke="#2f5fb0">BS</text>
<path d="M588.30 8.40 L590.30 8.40 Q591.50 8.40 591.50 9.80 V87.10 Q591.50 88.50 590.30 88.50 L588.30 88.50" fill="none" stroke="#2f5fb0" stroke-width="0.9"/>
<path d="M591.10 45.30 L596.40 48.00 L591.10 50.70 Z" fill="#2f5fb0"/>
<path d="M588.30 90.60 L590.30 90.60 Q591.50 90.60 591.50 92.00 V166.20 Q591.50 167.60 590.30 167.60 L588.30 167.60" fill="none" stroke="#2f5fb0" stroke-width="0.9"/>
<path d="M591.10 126.70 L596.40 129.40 L591.10 132.10 Z" fill="#2f5fb0"/>
<path d="M609.30 8.40 L611.30 8.40 Q612.50 8.40 612.50 9.80 V167.60 Q612.50 169.00 611.30 169.00 L609.30 169.00" fill="none" stroke="#2f5fb0" stroke-width="0.9"/>
<path d="M612.10 89.70 L617.40 92.40 L612.10 95.10 Z" fill="#2f5fb0"/>
<text transform="translate(619.4 95.00) scale(0.9 1)" class="bl" fill="#2f5fb0" stroke="#2f5fb0">HP</text>
<path d="M558.30 171.40 L560.30 171.40 Q561.50 171.40 561.50 172.80 V196.60 Q561.50 198.00 560.30 198.00 L558.30 198.00" fill="none" stroke="#f5a623" stroke-width="0.9"/>
<path d="M561.10 182.30 L566.40 185.00 L561.10 187.70 Z" fill="#f5a623"/>
<text transform="translate(569.6 187.60) scale(0.9 1)" class="bl" fill="#f5a623" stroke="#f5a623">DP2</text>
<line x1="529.6" y1="202.8" x2="563.4" y2="202.8" stroke="#f5a623" stroke-width="1.0"/>
<path d="M561.60 200.20 L566.40 202.80 L561.60 205.40 Z" fill="#f5a623"/>
<text transform="translate(569.6 205.20) scale(0.9 1)" class="bl" fill="#f5a623" stroke="#f5a623">DP1</text>
<path d="M610.30 173.40 L612.30 173.40 Q613.50 173.40 613.50 174.80 V201.60 Q613.50 203.00 612.30 203.00 L610.30 203.00" fill="none" stroke="#f5a623" stroke-width="0.9"/>
<path d="M613.10 185.70 L618.40 188.40 L613.10 191.10 Z" fill="#f5a623"/>
<text transform="translate(621.6 191.00) scale(0.9 1)" class="bl" fill="#f5a623" stroke="#f5a623">DP</text>
<path d="M610.30 208.00 L612.30 208.00 Q613.50 208.00 613.50 209.40 V274.60 Q613.50 276.00 612.30 276.00 L610.30 276.00" fill="none" stroke="#a896d8" stroke-width="0.9"/>
<path d="M613.10 239.30 L618.40 242.00 L613.10 244.70 Z" fill="#6a4cb4"/>
<text transform="translate(621.0 244.60) scale(0.9 1)" class="bl" fill="#6a4cb4" stroke="#6a4cb4">V</text>
<path d="M610.30 278.00 L612.30 278.00 Q613.50 278.00 613.50 279.40 V292.00 Q613.50 293.40 612.30 293.40 L610.30 293.40" fill="none" stroke="#3d84d0" stroke-width="0.9"/>
<path d="M613.10 283.30 L618.40 286.00 L613.10 288.70 Z" fill="#3d84d0"/>
<text transform="translate(621.0 288.60) scale(0.9 1)" class="bl" fill="#3d84d0" stroke="#3d84d0">BP</text>
<line x1="518.2" y1="298.8" x2="563.2" y2="298.8" stroke="#ee4b3b" stroke-width="1.0"/>
<path d="M561.40 296.20 L566.20 298.80 L561.40 301.40 Z" fill="#ee4b3b"/>
<text transform="translate(569.6 301.00) scale(0.9 1)" class="bl" fill="#ee4b3b" stroke="#ee4b3b">SP1</text>
<path d="M558.30 302.00 L560.30 302.00 Q561.50 302.00 561.50 303.40 V310.60 Q561.50 312.00 560.30 312.00 L558.30 312.00" fill="none" stroke="#ee4b3b" stroke-width="0.9"/>
<path d="M561.10 305.30 L566.40 308.00 L561.10 310.70 Z" fill="#ee4b3b"/>
<text transform="translate(569.6 310.60) scale(0.9 1)" class="bl" fill="#ee4b3b" stroke="#ee4b3b">SP2</text>
<path d="M610.30 297.00 L612.30 297.00 Q613.50 297.00 613.50 298.40 V311.00 Q613.50 312.40 612.30 312.40 L610.30 312.40" fill="none" stroke="#ee4b3b" stroke-width="0.9"/>
<path d="M613.10 301.90 L618.40 304.60 L613.10 307.30 Z" fill="#ee4b3b"/>
<text transform="translate(621.0 307.20) scale(0.9 1)" class="bl" fill="#ee4b3b" stroke="#ee4b3b">SP</text>
<path d="M560.30 316.00 L562.30 316.00 Q563.50 316.00 563.50 317.40 V348.60 Q563.50 350.00 562.30 350.00 L560.30 350.00" fill="none" stroke="#2eb34a" stroke-width="0.9"/>
<path d="M563.10 331.30 L568.40 334.00 L563.10 336.70 Z" fill="#2eb34a"/>
<text transform="translate(571.0 336.60) scale(0.9 1)" class="bl" fill="#2eb34a" stroke="#2eb34a">YFP</text>
<path d="M560.30 352.40 L562.30 352.40 Q563.50 352.40 563.50 353.80 V378.20 Q563.50 379.60 562.30 379.60 L560.30 379.60" fill="none" stroke="#2eb34a" stroke-width="0.9"/>
<path d="M563.10 363.70 L568.40 366.40 L563.10 369.10 Z" fill="#2eb34a"/>
<text transform="translate(571.0 369.00) scale(0.9 1)" class="bl" fill="#2eb34a" stroke="#2eb34a">EAF</text>
<line x1="523.4" y1="384.0" x2="563.0" y2="384.0" stroke="#2eb34a" stroke-width="1.0"/>
<path d="M561.20 381.40 L566.00 384.00 L561.20 386.60 Z" fill="#2eb34a"/>
<text transform="translate(569.6 386.60) scale(0.9 1)" class="bl" fill="#2eb34a" stroke="#2eb34a">IPF</text>
<path d="M611.30 316.60 L613.30 316.60 Q614.50 316.60 614.50 318.00 V386.20 Q614.50 387.60 613.30 387.60 L611.30 387.60" fill="none" stroke="#2eb34a" stroke-width="0.9"/>
<path d="M614.10 346.30 L619.40 349.00 L614.10 351.70 Z" fill="#2eb34a"/>
<text transform="translate(621.0 351.60) scale(0.9 1)" class="bl" fill="#2eb34a" stroke="#2eb34a">FP</text>
<text transform="translate(604.8 51) rotate(-90)" class="rl" text-anchor="middle" textLength="52" lengthAdjust="spacingAndGlyphs" fill="#2f5fb0">North Pacific (NP)</text>
<text transform="translate(604.8 129.4) rotate(-90)" class="rl" text-anchor="middle" textLength="55" lengthAdjust="spacingAndGlyphs" fill="#2f5fb0">North Atlantic (NA)</text>

<defs>
 <linearGradient id="ghp" x1="0" y1="0" x2="0" y2="1"><stop offset="0" stop-color="#3a454f"/><stop offset="0.45" stop-color="#4c5862"/><stop offset="0.62" stop-color="#a6b1b7"/><stop offset="1" stop-color="#e6eef1"/></linearGradient>
 <linearGradient id="gva" x1="0" y1="0" x2="0" y2="1"><stop offset="0" stop-color="#4e535c"/><stop offset="0.55" stop-color="#7a7f89"/><stop offset="0.8" stop-color="#a9aeb6"/><stop offset="1" stop-color="#dadde2"/></linearGradient>
 <linearGradient id="gbp" x1="0.3" y1="0" x2="0.1" y2="1"><stop offset="0" stop-color="#35414a"/><stop offset="0.45" stop-color="#55626b"/><stop offset="0.7" stop-color="#8c989e"/><stop offset="1" stop-color="#c6ced2"/></linearGradient>
 <linearGradient id="gsp" x1="0.3" y1="0" x2="0.1" y2="1"><stop offset="0" stop-color="#2a3036"/><stop offset="0.4" stop-color="#3a4148"/><stop offset="0.62" stop-color="#262b30"/><stop offset="0.68" stop-color="#cfd5d9"/><stop offset="1" stop-color="#eef1f3"/></linearGradient>
 <linearGradient id="gfp" x1="0.35" y1="0" x2="0.1" y2="1"><stop offset="0" stop-color="#7a756a"/><stop offset="0.1" stop-color="#a8a59c"/><stop offset="0.45" stop-color="#dedeD8"/><stop offset="0.85" stop-color="#cacac2"/><stop offset="1" stop-color="#7a766a"/></linearGradient>
</defs>
<g id="hp">
 <path d="M638.6 93.2 C639.3 90.4 643 88.6 648 88.1 C652 87.6 655 87.6 657.2 87.1 L659.6 84.7 Q660.6 83.8 660.6 85 L661.6 87.6 C667 88.6 673 91.4 677.2 93.9 L680.6 95.3 L677.4 95.7 C670 96.4 660 97.6 650 97.4 C645 97.2 640.4 96 638.6 93.2 Z" fill="#a9b4ba"/>
 <path d="M638.6 93.2 C639.3 90.4 643 88.6 648 88.1 C652 87.6 655 87.6 657.2 87.1 L659.6 84.7 Q660.6 83.8 660.6 85 L661.6 87.6 C667 88.6 673 91.4 677.2 93.9 L680.6 95.3 L677.4 95.7 C675 95.4 671 94.6 667 93.8 C663 92.8 658 91.4 652 91.0 C647 90.8 643 91.6 641 93.0 C640 93.4 639.2 93.5 638.6 93.2 Z" fill="#3e4953"/>
 <path d="M640 94.4 C645 93.6 652 93.8 660 94.4 C666 94.9 671 95.1 675 95.4 C668 96.6 659 97.6 650 97.4 C645 97.2 641.4 96.2 640 94.4 Z" fill="#e6eef1"/>
 <path d="M647.8 95.6 L652.4 98.6 L651 95.8 Z" fill="#343e46"/>
</g>
<g id="dp">
 <path d="M637.4 190.3 C638.5 187.5 642 185.6 647 184.7 C650 184.2 652.5 183.9 654.5 183.4 L657.2 180.2 Q658 179.6 658.2 180.6 L659.6 183.4 C665 184.2 671 185.8 676 187.2 L679.2 188 L682.6 186.6 L681.4 188.9 L682.6 191 L678.6 189.8 C672 190.8 666 192.2 660 193 C653 193.6 646 193.6 641 192.6 C639 192 637.8 191.3 637.4 190.3 Z" fill="#1f2a32"/>
 <path d="M653 190.6 C653.2 188.6 656 187.6 659.5 187.9 C663.5 188.2 667 189.2 669.6 190.4 C666 191.8 661 192.8 656 193.1 C654.2 192.6 653.2 191.7 653 190.6 Z" fill="#eef2f4"/>
 <path d="M644.2 192.4 L646.6 195.2 L648.6 192.9 Z" fill="#1f2a32"/>
</g>
<g id="va">
 <path d="M637.1 249.1 C638 246.2 641 243.6 646 241.4 C649.5 239.9 652.5 238.9 655.4 238.1 L660.6 232.8 Q661.9 231.9 661.8 233.4 L662.4 238.1 C668 239.8 673 243.5 676.6 248 C678 249.8 679 251 680.2 252.1 L681.8 253.6 L679.6 254.8 L678 252.8 C672 251.3 664 250.6 656 250.8 C649 251 643 251.6 639.5 250.8 C638 250.4 637.3 249.8 637.1 249.1 Z" fill="url(#gva)"/>
 <path d="M655.4 238.1 L660.6 232.8 Q661.9 231.9 661.8 233.4 L662.4 238.1 C660 238.4 657.5 238.6 655.4 238.1 Z" fill="#3e424a"/>
 <path d="M672 244.6 C674 246 675.6 247.2 676.6 248 C678 249.8 679 251 680.2 252.1 L681.8 253.6 L679.6 254.8 L678 252.8 C676.5 252.2 675 251.8 673.5 251.5 C674 249 673.4 246.6 672 244.6 Z" fill="#50545c"/>
 <path d="M637.6 249 C638.5 247.6 640 247 641.4 247.4 L641 250 C639.5 250.2 638.2 249.8 637.6 249 Z" fill="#2e3238"/>
 <path d="M645.4 249.6 L652.4 252.4 L650.6 249.8 Z" fill="#2a2e34"/>
</g>
<g id="bp">
 <path d="M638.7 290.4 C639.5 287 642 283.5 645.7 280.2 C648.5 278.6 652 277.7 656 277.1 L660.6 276.6 L664.8 275.2 Q666.2 274.8 665.9 275.8 L666.1 277.3 C669 278 672 279 676.3 281 L681.4 282 L679.3 282.8 L675 282.4 C672 282.8 670 283.2 668.3 283.5 C665 284.2 663 284.6 661.7 285.3 C658 286.8 653 288.4 648.6 289 C645 289.6 642.8 290.4 641 291.3 C639.8 291.5 638.9 291.2 638.7 290.4 Z" fill="#4b575f"/>
 <path d="M643 287.2 C648 284.2 655 282.2 662 281.2 C667 280.6 671 281 674 281.8 C669 282.6 664 283.4 659 284.4 C653 285.6 647 287.4 643 288.6 Z" fill="#7e8a91"/>
 <path d="M640.6 290.6 C646 289 653 287.2 660 285.6 C664 284.7 667 284 670 283.6 C667 284.2 664 284.8 661.7 285.6 C658 287 653 288.6 648.6 289.4 C645 290 642.8 290.8 641.2 291.4 Z" fill="#c2cacd"/>
 <path d="M638.7 290.4 C639.2 288.6 640.2 287.4 641.6 286.8 L642.2 290.6 C640.8 291.2 639.2 291.2 638.7 290.4 Z" fill="#2e3840"/>
 <path d="M653.5 288.5 L658.2 289.8 L655.8 287.8 Z" fill="#3a434b"/>
</g>
<g id="sp">
 <path d="M637.3 313.2 C638.4 310.6 639.6 308.4 641.3 306.6 C643 304.6 644.6 303.4 646.4 302.2 C649 300.8 651 300 653 299.3 C655 298.5 656.4 297.8 657.4 297.1 L661 294.4 Q662.1 293.7 662 294.8 L663.2 298.2 C665 299 666.6 300 668.3 300.8 C670 301.6 671.2 302.1 672 302.6 C673.4 303.6 674.3 304.8 674.9 305.9 L676.8 308 L678.9 310.2 L676 309.2 L674.1 307.7 C672 307.2 670.5 306.8 669 306.6 C667 307 665 307.5 663.2 308.1 C660.5 309.2 658 310.2 655.9 311 C653 312 650 313 647.1 313.8 C645 314.2 643 314.1 642.8 313.9 C641 314.2 639.6 314.4 638.4 314.3 C637.8 314.1 637.4 313.7 637.3 313.2 Z" fill="#e6eaed"/>
 <path d="M637.3 313.2 C638.4 310.6 639.6 308.4 641.3 306.6 C643 304.6 644.6 303.4 646.4 302.2 C649 300.8 651 300 653 299.3 C655 298.5 656.4 297.8 657.4 297.1 L661 294.4 Q662.1 293.7 662 294.8 L663.2 298.2 C665 299 666.6 300 668.3 300.8 C670 301.6 671 302.1 671.6 302.6 C669 303.6 665 304.6 661 305.6 C655 307 648 309.2 642 311.6 C640 312.4 638.6 313.2 637.6 313.8 Z" fill="#262b31"/>
 <path d="M645 305.2 C650 302.6 656 300.8 662 300 C657 301.8 651 303.8 646 306 Z" fill="#40464e"/>
 <path d="M673.6 305.4 L676.8 308 L678.9 310.2 L676 309.2 L673.4 307.2 Z" fill="#2a3036"/>
 <path d="M646.5 313.6 L652 316 L656.4 315.8 L655 313.2 Z" fill="#d6dce0"/>
</g>
<rect x="637.3" y="337.9" width="44.9" height="21.2" fill="#f6f6f1" opacity="0.35"/>
<g id="fp">
 <path d="M638.4 354.7 C638.6 353.2 639.4 352 640.6 351.1 C642.5 349.2 644.8 347.9 647.1 346.7 C649.5 345.3 652 343.9 654.4 342.7 C656.5 341.7 658.5 341 660.3 340.5 C662 340.1 663.7 340 665.4 340.1 C667 340.4 668.6 341 669.8 341.9 C671 342.7 672 343.6 672.7 344.5 C673.6 345.4 674.3 346.2 674.9 347 L677.4 349.6 L679.6 351.4 L677.8 350.7 L676.2 349.6 C674.8 349.2 673.4 348.8 672 348.5 C671.3 348.2 670.8 348 670.5 347.8 C668.5 348.2 666.5 348.5 664.7 348.9 C662.8 349.6 661 350.4 659.5 351.1 C657.8 352 656 352.8 654.4 353.6 C651 354.8 648 355.4 645 355.8 C643 356.1 641.3 356.3 639.8 356.2 C639 355.9 638.5 355.3 638.4 354.7 Z" fill="url(#gfp)"/>
 <path d="M670 342.4 C671.8 343.6 673.2 345 674.4 346.6 L677.4 349.6 L679.6 351.4 L677.8 350.7 L676.2 349.6 C674 348.8 672.5 348.4 671.2 348 C671.2 346 670.8 344 670 342.4 Z" fill="#4a463c"/>
 <path d="M650.8 355.1 L655.6 356.8 L658.1 355.2 L656 354.2 Z" fill="#d2d2ca"/>
</g>

</svg>
</body></html>
